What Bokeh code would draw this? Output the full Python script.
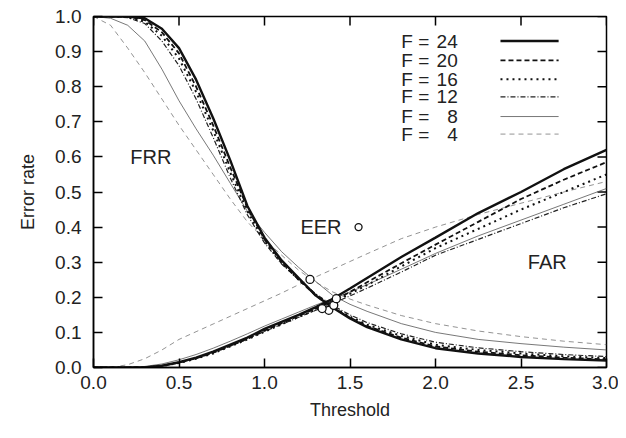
from bokeh.plotting import figure
from bokeh.models import Range1d, FixedTicker, PrintfTickFormatter, Label
from bokeh.core.properties import value
from bokeh.embed import file_html
from bokeh.resources import INLINE

# ---------------- data ----------------
threshold = [0.0, 0.1, 0.2, 0.3, 0.4, 0.5, 0.6, 0.7, 0.8, 0.9, 1.0, 1.1, 1.2, 1.3, 1.4,
             1.5, 1.6, 1.8, 2.0, 2.25, 2.5, 2.75, 3.0]

frr_f24 = [1.0, 1.0, 1.0, 0.995, 0.965, 0.91, 0.82, 0.71, 0.59, 0.46, 0.37, 0.305, 0.255, 0.205, 0.17,
           0.14, 0.115, 0.08, 0.055, 0.04, 0.03, 0.024, 0.02]
frr_f20 = [1.0, 1.0, 1.0, 0.99, 0.955, 0.895, 0.80, 0.69, 0.57, 0.455, 0.365, 0.30, 0.25, 0.205, 0.17,
           0.142, 0.118, 0.085, 0.06, 0.045, 0.035, 0.028, 0.023]
frr_f16 = [1.0, 1.0, 0.998, 0.985, 0.945, 0.88, 0.785, 0.675, 0.555, 0.445, 0.36, 0.298, 0.25, 0.207, 0.172,
           0.145, 0.122, 0.09, 0.065, 0.05, 0.04, 0.032, 0.027]
frr_f12 = [1.0, 1.0, 0.997, 0.98, 0.93, 0.86, 0.765, 0.655, 0.54, 0.435, 0.355, 0.295, 0.25, 0.21, 0.176,
           0.15, 0.128, 0.096, 0.072, 0.056, 0.045, 0.037, 0.031]
frr_f8 = [1.0, 0.995, 0.975, 0.93, 0.85, 0.76, 0.68, 0.605, 0.525, 0.445, 0.385, 0.33, 0.285, 0.245, 0.205,
          0.18, 0.16, 0.125, 0.10, 0.08, 0.068, 0.058, 0.05]
frr_f4 = [1.0, 0.975, 0.91, 0.84, 0.765, 0.69, 0.62, 0.55, 0.48, 0.415, 0.365, 0.32, 0.277, 0.243, 0.215,
          0.195, 0.178, 0.148, 0.125, 0.104, 0.088, 0.075, 0.065]

far_f24 = [0.0, 0.0, 0.0, 0.0, 0.005, 0.015, 0.028, 0.045, 0.065, 0.085, 0.11, 0.13, 0.15, 0.172, 0.196,
           0.225, 0.255, 0.315, 0.37, 0.44, 0.5, 0.565, 0.62]
far_f20 = [0.0, 0.0, 0.0, 0.0, 0.005, 0.014, 0.026, 0.042, 0.062, 0.082, 0.105, 0.126, 0.147, 0.168, 0.19,
           0.215, 0.243, 0.297, 0.35, 0.415, 0.48, 0.535, 0.585]
far_f16 = [0.0, 0.0, 0.0, 0.0, 0.004, 0.013, 0.025, 0.04, 0.06, 0.08, 0.102, 0.123, 0.144, 0.165, 0.186,
           0.21, 0.235, 0.288, 0.34, 0.395, 0.45, 0.50, 0.55]
far_f12 = [0.0, 0.0, 0.0, 0.001, 0.005, 0.014, 0.026, 0.042, 0.061, 0.081, 0.103, 0.123, 0.143, 0.163, 0.183,
           0.204, 0.226, 0.272, 0.32, 0.365, 0.41, 0.455, 0.495]
far_f8 = [0.0, 0.0, 0.0, 0.003, 0.01, 0.022, 0.037, 0.055, 0.075, 0.096, 0.118, 0.138, 0.158, 0.178, 0.196,
          0.215, 0.236, 0.28, 0.325, 0.375, 0.42, 0.465, 0.51]
far_f4 = [0.0, 0.0, 0.008, 0.025, 0.05, 0.08, 0.102, 0.124, 0.146, 0.168, 0.19, 0.212, 0.236, 0.258, 0.28,
          0.302, 0.324, 0.367, 0.40, 0.436, 0.468, 0.50, 0.53]

feature_counts = [24, 20, 16, 12, 8, 4]
eer_threshold = [1.40, 1.376, 1.337, 1.405, 1.42, 1.266]
eer_rate = [0.177, 0.163, 0.168, 0.177, 0.196, 0.251]

x_ticks = [0.0, 0.5, 1.0, 1.5, 2.0, 2.5, 3.0]
y_ticks = [0.0, 0.1, 0.2, 0.3, 0.4, 0.5, 0.6, 0.7, 0.8, 0.9, 1.0]

# ---------------- styles ----------------
FONT = "Liberation Sans"
TXT = "#222222"
styles = {
    24: dict(line_width=2.4, line_dash="solid", line_color="#111111"),
    20: dict(line_width=1.8, line_dash="5 3", line_color="#111111"),
    16: dict(line_width=2.0, line_dash="2 4", line_color="#111111"),
    12: dict(line_width=1.2, line_dash="5 2 1 2", line_color="#222222"),
    8: dict(line_width=0.8, line_dash="solid", line_color="#555555"),
    4: dict(line_width=0.8, line_dash="5 4", line_color="#777777"),
}
frr = {24: frr_f24, 20: frr_f20, 16: frr_f16, 12: frr_f12, 8: frr_f8, 4: frr_f4}
far = {24: far_f24, 20: far_f20, 16: far_f16, 12: far_f12, 8: far_f8, 4: far_f4}

W, H = 618, 422
BL, BR, BT, BB = 93, 12, 16, 52
p = figure(width=W, height=H, output_backend="svg", toolbar_location=None,
           x_range=Range1d(0, 3), y_range=Range1d(0, 1),
           min_border_left=BL, min_border_right=BR, min_border_top=BT, min_border_bottom=BB)
p.grid.visible = False
p.background_fill_color = "white"
p.border_fill_color = "white"
p.outline_line_color = "black"
p.outline_line_width = 1.5

TICK = 9
for ax in (p.xaxis[0], p.yaxis[0]):
    ax.axis_line_width = 1.5
    ax.major_tick_in = TICK
    ax.major_tick_out = 0
    ax.major_tick_line_width = 1.5
    ax.minor_tick_line_color = None
    ax.major_label_text_font = FONT
    ax.major_label_text_font_size = "19px"
    ax.major_label_text_color = TXT
    ax.axis_label_text_font = FONT
    ax.axis_label_text_font_size = "18px"
    ax.axis_label_text_font_style = "normal"
    ax.axis_label_text_color = TXT
    ax.formatter = PrintfTickFormatter(format="%.1f")

p.xaxis[0].ticker = FixedTicker(ticks=x_ticks)
p.yaxis[0].ticker = FixedTicker(ticks=y_ticks)
p.xaxis[0].axis_label = "Threshold"
p.yaxis[0].axis_label = "Error rate"
p.xaxis[0].major_label_standoff = 8
p.yaxis[0].major_label_standoff = 12
p.xaxis[0].axis_label_standoff = 8
p.yaxis[0].axis_label_standoff = 14

# mirrored inward ticks on top and right edges (from the tick lists)
frame_w = W - BL - BR
frame_h = H - BT - BB
dx = TICK / frame_w * 3.0
dy = TICK / frame_h * 1.0
p.segment(x0=x_ticks, y0=[1.0] * len(x_ticks), x1=x_ticks, y1=[1.0 - dy] * len(x_ticks),
          line_color="black", line_width=1.5)
p.segment(x0=[3.0] * len(y_ticks), y0=y_ticks, x1=[3.0 - dx] * len(y_ticks), y1=y_ticks,
          line_color="black", line_width=1.5)

# curves
for f in [4, 8, 12, 16, 20, 24]:
    p.line(threshold, frr[f], **styles[f])
    p.line(threshold, far[f], **styles[f])

# EER markers
p.scatter(eer_threshold, eer_rate, size=8, marker="circle", fill_color="white",
          line_color="#111111", line_width=1.3)

# annotations
p.add_layout(Label(x=0.215, y=0.60, text="FRR", text_font=FONT, text_font_size="20px",
                   text_color=TXT, text_baseline="middle"))
p.add_layout(Label(x=2.54, y=0.30, text="FAR", text_font=FONT, text_font_size="20px",
                   text_color=TXT, text_baseline="middle"))
p.add_layout(Label(x=1.21, y=0.40, text="EER", text_font=FONT, text_font_size="20px",
                   text_color=TXT, text_baseline="middle"))
p.scatter([1.55], [0.40], size=7, marker="circle", fill_color="white",
          line_color="#111111", line_width=1.3)

# legend (drawn manually: label left, line sample right)
leg_rows = [0.93, 0.875, 0.821, 0.771, 0.715, 0.665]
LEG_TX, LEG_NX, LEG_L0, LEG_L1 = 1.80, 2.13, 2.38, 2.72
for f, yy in zip(feature_counts, leg_rows):
    p.text(x=[LEG_TX], y=[yy], text=["F ="], text_font=value(FONT), text_font_size="19px",
           text_color=TXT, text_baseline="middle", text_align="left")
    p.text(x=[LEG_NX], y=[yy], text=[str(f)], text_font=value(FONT), text_font_size="19px",
           text_color=TXT, text_baseline="middle", text_align="right")
    p.line([LEG_L0, LEG_L1], [yy, yy], **styles[f])

open("out.html", "w").write(file_html(p, INLINE))
